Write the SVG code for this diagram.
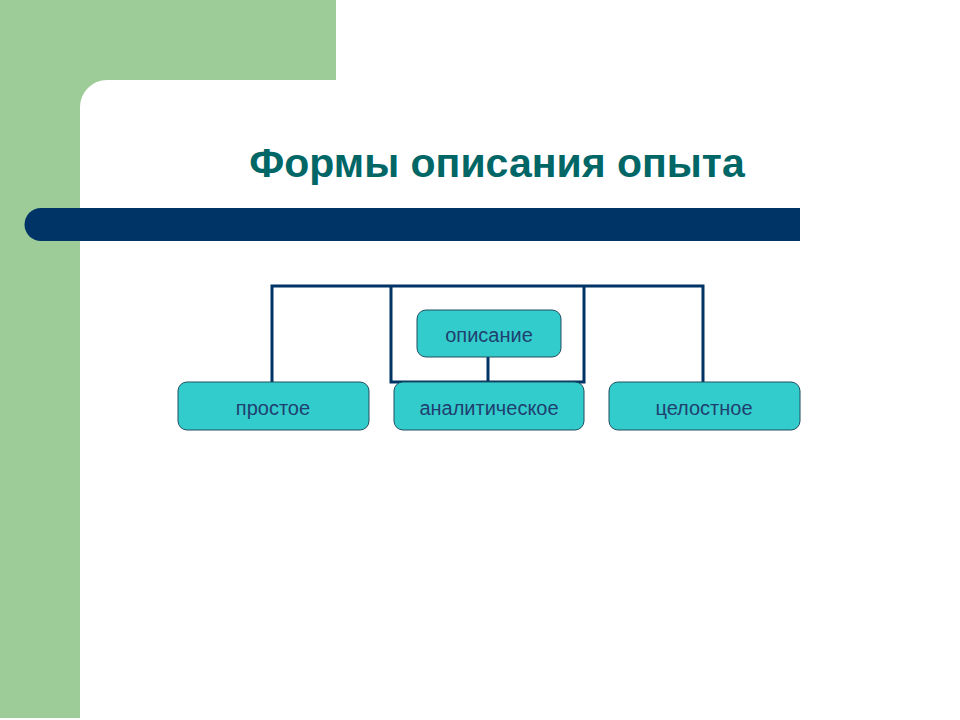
<svg xmlns="http://www.w3.org/2000/svg" width="960" height="720" viewBox="0 0 960 720">
<style>
.n{fill:#33CCCC;stroke:#1F4E5F;stroke-width:1}
.t{font-family:"Liberation Sans",Arial,sans-serif;font-size:20px;fill:#1F3F6F;text-anchor:middle}
.c{fill:none;stroke:#003366;stroke-width:3}
</style>
<rect width="960" height="720" fill="#fff"/>
<rect x="0" y="0" width="80" height="718" fill="#9ECC99"/>
<path d="M80 0H336V80H107A27 27 0 0 0 80 107Z" fill="#9ECC99"/>
<path d="M41 208H800V241H41A16.5 16.5 0 0 1 41 208Z" fill="#003366"/>
<text x="497" y="177" font-family="Liberation Sans,Arial,sans-serif" font-size="41" font-weight="bold" fill="#006666" text-anchor="middle">Формы описания опыта</text>
<g id="connectors" class="c">
<path d="M272 382V286H703V382"/>
<path d="M391 286V382H584V286"/>
<path d="M488 357V382"/>
</g>
<g id="n0"><rect class="n" x="417" y="310" width="144" height="47" rx="9"/><text class="t" x="489" y="342">описание</text></g>
<g id="n1"><rect class="n" x="178" y="382" width="191" height="48" rx="9"/><text class="t" x="273" y="415">простое</text></g>
<g id="n2"><rect class="n" x="394" y="382" width="190" height="48" rx="9"/><text class="t" x="489" y="415">аналитическое</text></g>
<g id="n3"><rect class="n" x="609" y="382" width="191" height="48" rx="9"/><text class="t" x="704" y="415">целостное</text></g>
</svg>
